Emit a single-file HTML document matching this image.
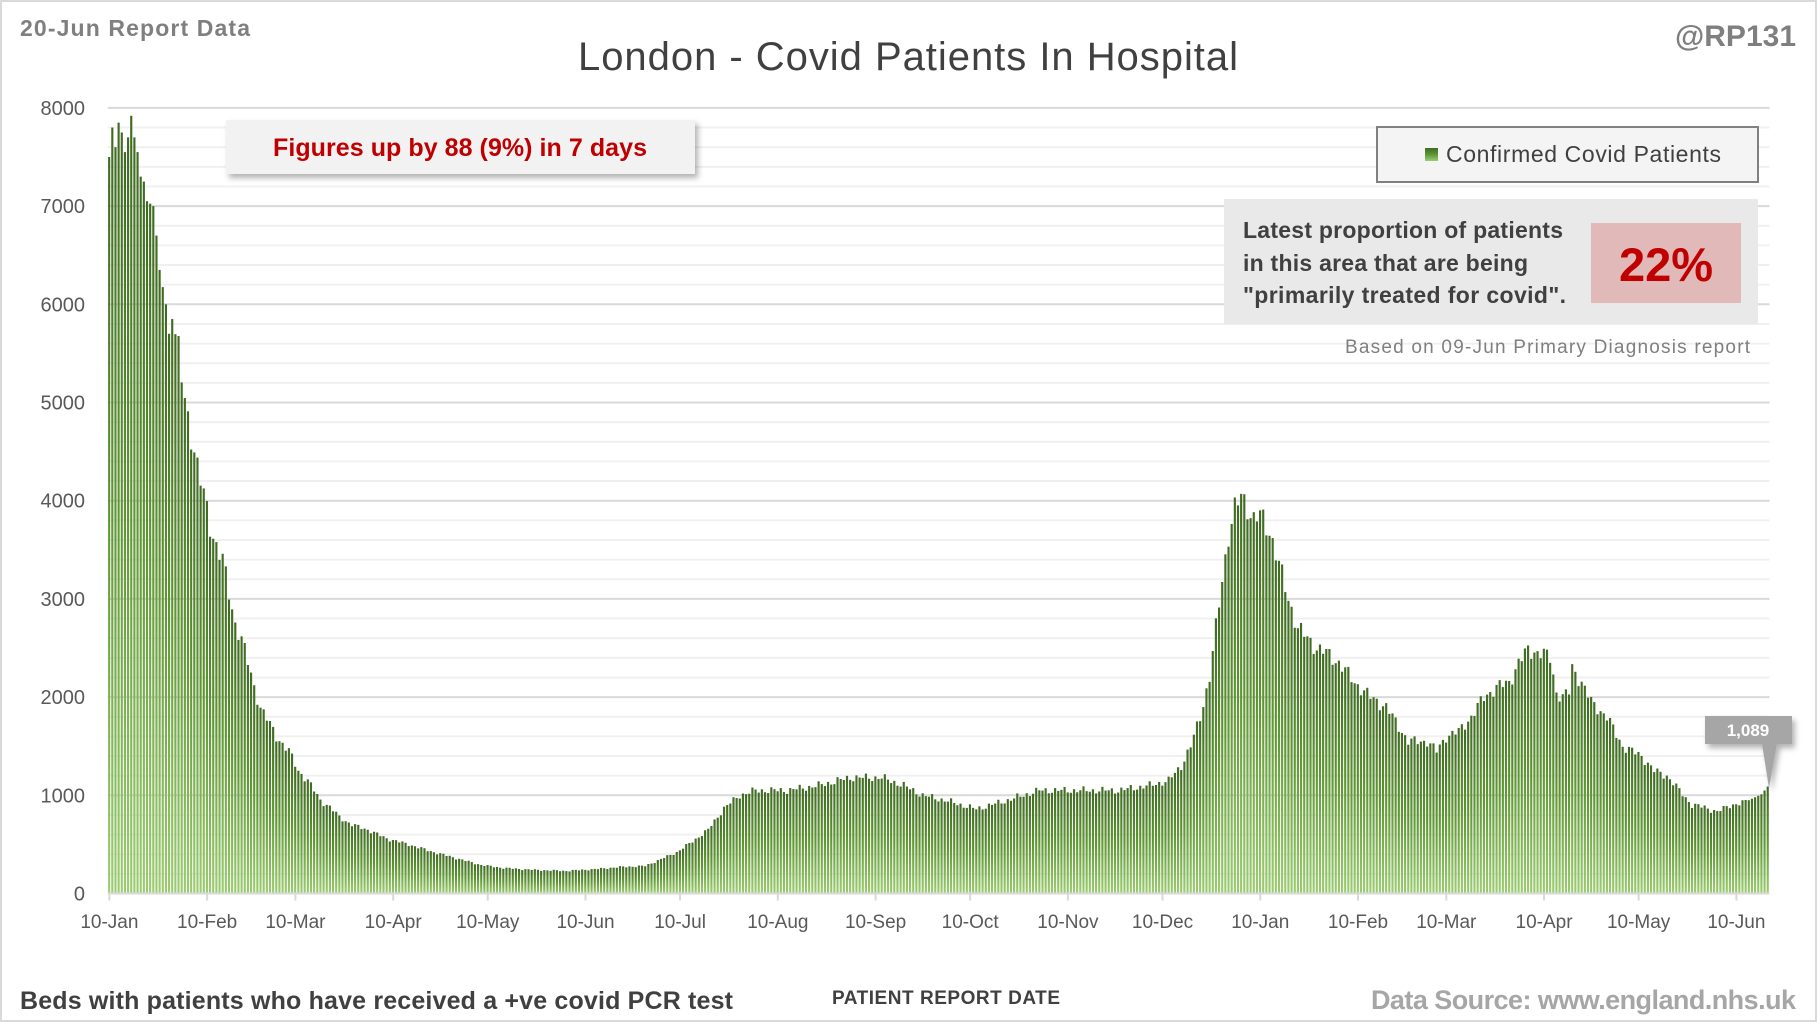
<!DOCTYPE html>
<html><head><meta charset="utf-8"><style>
html,body{margin:0;padding:0;background:#fff;}
svg{display:block;font-family:"Liberation Sans",sans-serif;}
</style></head><body>
<svg id="c" width="1817" height="1022" viewBox="0 0 1817 1022" xmlns="http://www.w3.org/2000/svg">
<defs>
<linearGradient id="g" x1="0" y1="0" x2="0" y2="1"><stop offset="0" stop-color="#3f6a22"/><stop offset="0.5" stop-color="#5f9634"/><stop offset="1" stop-color="#9ccc72"/></linearGradient>
<linearGradient id="gv" gradientUnits="userSpaceOnUse" x1="0" y1="100" x2="0" y2="894"><stop offset="0" stop-color="#3f6a22"/><stop offset="0.75" stop-color="#5a9232"/><stop offset="1" stop-color="#9ccc72"/></linearGradient>
<filter id="sh" x="-10%" y="-20%" width="130%" height="160%"><feDropShadow dx="3" dy="4" stdDeviation="3" flood-color="#000" flood-opacity="0.3"/></filter>
</defs>
<rect x="1" y="1" width="1815" height="1020" fill="#fff" stroke="#d9d9d9" stroke-width="2"/>
<g id="grid"></g>
<g id="bars"></g>
<g id="axis"></g>
<text x="20" y="36" font-size="23" font-weight="bold" fill="#7f7f7f" textLength="230">20-Jun Report Data</text>
<text x="908" y="70" font-size="40" fill="#404040" text-anchor="middle" textLength="660">London - Covid Patients In Hospital</text>
<text x="1796" y="46" font-size="30" font-weight="bold" fill="#7f7f7f" text-anchor="end">@RP131</text>
<rect x="226" y="120" width="469" height="54" fill="#f2f2f2" filter="url(#sh)"/>
<text x="460" y="156" font-size="25" font-weight="bold" fill="#c00000" text-anchor="middle" textLength="374">Figures up by 88 (9%) in 7 days</text>
<rect x="1377" y="127" width="381" height="55" fill="#f4f4f4" stroke="#808080" stroke-width="2"/>
<rect x="1425" y="148" width="13" height="13" fill="url(#g)"/>
<text x="1446" y="162" font-size="23" fill="#404040" textLength="275">Confirmed Covid Patients</text>
<rect x="1224" y="199" width="534" height="125" fill="#e9e9e9"/>
<rect x="1591" y="223" width="150" height="80" fill="#e2b9b9"/>
<text x="1666" y="281" font-size="47" font-weight="bold" fill="#c00000" text-anchor="middle">22%</text>
<g font-size="23" font-weight="bold" fill="#404040">
<text x="1243" y="238" textLength="320">Latest proportion of patients</text>
<text x="1243" y="271" textLength="285">in this area that are being</text>
<text x="1243" y="303" textLength="323">"primarily treated for covid".</text>
</g>
<text x="1750" y="353" font-size="19" fill="#7f7f7f" text-anchor="end" textLength="405">Based on 09-Jun Primary Diagnosis report</text>
<path d="M1705 716 H1792 V744 H1777 L1769 788 L1762 744 H1705 Z" fill="#a6a6a6" filter="url(#sh)"/>
<text x="1748" y="736" font-size="17" font-weight="bold" fill="#fff" text-anchor="middle">1,089</text>
<text x="20" y="1009" font-size="25" font-weight="bold" fill="#404040" textLength="713">Beds with patients who have received a +ve covid PCR test</text>
<text x="946" y="1004" font-size="19" font-weight="bold" fill="#404040" text-anchor="middle" textLength="228">PATIENT REPORT DATE</text>
<text x="1796" y="1009" font-size="27" font-weight="bold" fill="#a6a6a6" text-anchor="end" textLength="425">Data Source: www.england.nhs.uk</text>
</svg>
<script>
(function(){
var NS="http://www.w3.org/2000/svg";
function el(p,t,a,txt){var e=document.createElementNS(NS,t);for(var k in a)e.setAttribute(k,a[k]);if(txt!==undefined)e.textContent=txt;p.appendChild(e);return e;}
var X0=107.8,X1=1769.5,Y0=893.5,PER=98.2/1000;
var N=527,dx=(X1-X0)/N;
function y(v){return Y0-v*PER;}
var grid=document.getElementById('grid');
for(var v=200;v<=8000;v+=200){var maj=v%1000==0;el(grid,'line',{x1:X0,x2:X1,y1:y(v),y2:y(v),stroke:maj?'#d9d9d9':'#f0f0f0','stroke-width':maj?2:2});}
for(var v=0;v<=8000;v+=1000){el(grid,'text',{x:85,y:y(v)+7,'font-size':20,fill:'#595959','text-anchor':'end'},String(v));}
var kp=[[0,7500],[1,7800],[2,7600],[3,7850],[4,7750],[5,7550],[6,7700],[7,7920],[8,7700],[9,7550],[10,7300],[11,7250],[12,7050],[14,7000],[15,6700],[16,6350],[18,6000],[19,5700],[20,5850],[22,5500],[24,5000],[26,4700],[28,4350],[30,4050],[32,3750],[34,3550],[36,3400],[38,3050],[40,2750],[42,2600],[44,2350],[46,2100],[48,1900],[50,1780],[53,1600],[57,1450],[60,1250],[63,1150],[67,950],[70,880],[73,780],[77,700],[82,650],[88,560],[95,500],[102,430],[110,360],[118,290],[125,260],[135,240],[145,230],[155,250],[162,270],[170,280],[175,350],[180,420],[185,530],[190,650],[195,870],[200,1000],[205,1050],[215,1050],[225,1100],[235,1180],[245,1180],[252,1100],[258,1000],[265,950],[275,860],[285,950],[295,1050],[305,1050],[320,1050],[330,1100],[336,1150],[340,1300],[343,1500],[346,1800],[349,2200],[351,2700],[353,3200],[355,3650],[357,3900],[359,4050],[361,3950],[363,3800],[365,3850],[368,3700],[371,3350],[374,3000],[377,2700],[380,2600],[383,2500],[386,2450],[390,2350],[395,2150],[400,2000],[405,1900],[409,1700],[412,1550],[418,1550],[421,1450],[424,1600],[428,1650],[432,1800],[436,2000],[440,2100],[444,2150],[447,2350],[450,2480],[454,2450],[457,2400],[459,2050],[461,2000],[463,2050],[464,2300],[467,2150],[470,1950],[475,1800],[480,1500],[486,1400],[490,1250],[494,1200],[498,1050],[502,900],[506,880],[510,830],[514,900],[518,920],[522,980],[524,1010],[526,1089]];
function interp(d){for(var i=0;i<kp.length-1;i++){if(d>=kp[i][0]&&d<=kp[i+1][0]){var t=(d-kp[i][0])/(kp[i+1][0]-kp[i][0]);return kp[i][1]+t*(kp[i+1][1]-kp[i][1]);}}return kp[kp.length-1][1];}
var bars=document.getElementById('bars');
for(var d=0;d<N;d++){var v=interp(d);if(d>20&&d<520)v*=1+0.025*Math.sin(d*2.1)+0.015*Math.sin(d*0.9);
var top=y(v);el(bars,'rect',{x:(X0+d*dx+0.3).toFixed(2),y:top.toFixed(2),width:(dx*0.68).toFixed(2),height:(Y0-top).toFixed(2),fill:'url(#g)'});}
var ax=document.getElementById('axis');
el(ax,'line',{x1:X0,x2:X1,y1:Y0,y2:Y0,stroke:'#d9d9d9','stroke-width':2});
var months=[['10-Jan',0],['10-Feb',31],['10-Mar',59],['10-Apr',90],['10-May',120],['10-Jun',151],['10-Jul',181],['10-Aug',212],['10-Sep',243],['10-Oct',273],['10-Nov',304],['10-Dec',334],['10-Jan',365],['10-Feb',396],['10-Mar',424],['10-Apr',455],['10-May',485],['10-Jun',516]];
months.forEach(function(m){var xx=X0+m[1]*dx+dx/2;el(ax,'line',{x1:xx,x2:xx,y1:Y0,y2:Y0+7,stroke:'#d9d9d9','stroke-width':2});el(ax,'text',{x:xx,y:928,'font-size':19,fill:'#595959','text-anchor':'middle'},m[0]);});
})();
</script>
</body></html>
